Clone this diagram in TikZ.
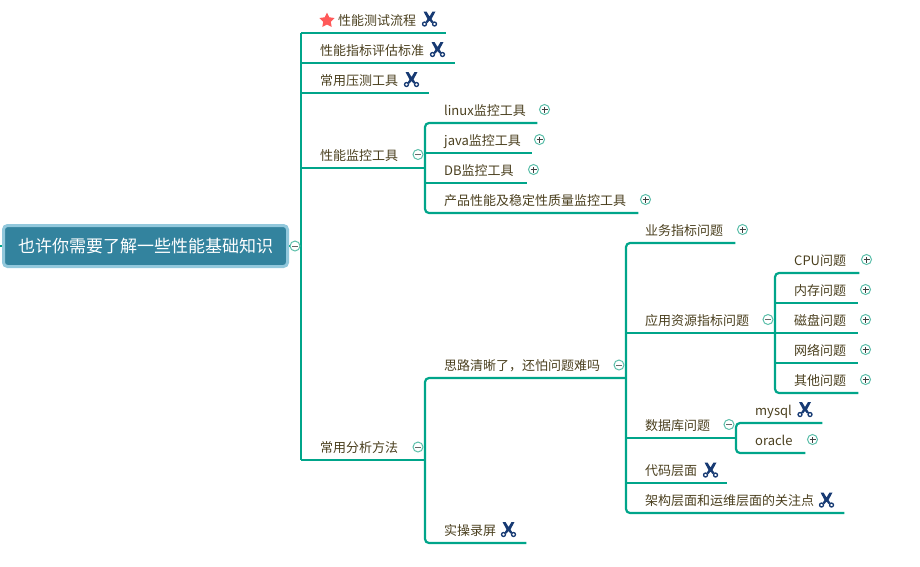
\documentclass[tikz,border=0pt]{standalone}
\usepackage{fontspec}
\setmainfont{Noto Sans CJK SC}
\usepackage{xcolor}
\usepackage{tikz}
\usetikzlibrary{shapes.geometric}
\definecolor{branchgreen}{HTML}{00A58A}
\definecolor{togglegreen}{HTML}{5CBFAA}
\definecolor{topicbrown}{HTML}{4A3F1E}
\definecolor{rootblue}{HTML}{33839E}
\definecolor{rootedge}{HTML}{92C8DC}
\definecolor{cutterblue}{HTML}{173A73}
\begin{document}
\begin{tikzpicture}[x=1pt, y=-1pt,
        topic/.style={
                anchor=south west,
                inner xsep=0pt,
                inner ysep=6pt,
                text width=#1,
                align=left,
                text height=11.5pt,
                text depth=1.5pt,
                font=\fontsize{13pt}{15pt}\selectfont,
                text=topicbrown,
                execute at begin node=\hspace*{19pt},
        },
        rootbox/.style={
                rectangle,
                rounded corners=4pt,
                draw=rootedge,
                fill=rootblue,
                line width=3pt,
                minimum width=284pt,
                minimum height=41pt,
                text=white,
                font=\fontsize{17pt}{19pt}\selectfont,
        },
        branch/.style={draw=branchgreen, line width=2.2pt},
        elbow/.style={branch, rounded corners=4pt},
        toggle/.style={
                circle,
                draw=togglegreen,
                fill=white,
                line width=1pt,
                minimum size=10pt,
                inner sep=0pt,
        },
        minusmark/.style={toggle, path picture={
                \draw[black!60, line width=0.9pt] ([xshift=-3pt]path picture bounding box.center) -- ([xshift=3pt]path picture bounding box.center);
        }},
        plusmark/.style={toggle, path picture={
                \draw[black!75, line width=0.9pt] ([xshift=-3pt]path picture bounding box.center) -- ([xshift=3pt]path picture bounding box.center);
                \draw[black!75, line width=0.9pt] ([yshift=-3pt]path picture bounding box.center) -- ([yshift=3pt]path picture bounding box.center);
        }},
        cutter/.pic={
                \fill[cutterblue] (-6,-7.5) -- (-3,-7.5) -- (0,-2.5) -- (3,-7.5) -- (6,-7.5) -- (2,0) -- (4,3) -- (2,4) -- (0,1.5) -- (-2,4) -- (-4,3) -- (-2,0) -- cycle;
                \draw[cutterblue, line width=1.3pt] (-5,5) circle (2pt);
                \draw[cutterblue, line width=1.3pt] (5,5) circle (2pt);
        },
    ]
    \useasboundingbox (0,0) rectangle (920,566);

    \node[rootbox] (root) at (145.5,246) {也许你需要了解一些性能基础知识};
    \coordinate (rootstub) at (0,246);

    \node[topic=145pt, execute at begin node=\hspace*{18pt}] (flow) at (301,33) {性能测试流程};
    \node[topic=154pt] (standard) at (301,63) {性能指标评估标准};
    \node[topic=128pt] (stress) at (301,93) {常用压测工具};
    \node[topic=124pt] (monitor) at (301,168) {性能监控工具};
    \node[topic=124pt] (analysis) at (301,460) {常用分析方法};

    \node[topic=112pt] (linux) at (425,123) {linux监控工具};
    \node[topic=107pt] (java) at (425,153) {java监控工具};
    \node[topic=102pt] (db) at (425,183) {DB监控工具};
    \node[topic=213pt] (product) at (425,213) {产品性能及稳定性质量监控工具};
    \node[topic=201pt] (thinking) at (425,378) {思路清晰了，还怕问题难吗};
    \node[topic=101pt] (record) at (425,543) {实操录屏};

    \node[topic=109pt] (business) at (626,243) {业务指标问题};
    \node[topic=149pt] (resource) at (626,333) {应用资源指标问题};
    \node[topic=110pt] (database) at (626,438) {数据库问题};
    \node[topic=101pt] (code) at (626,483) {代码层面};
    \node[topic=218pt] (arch) at (626,513) {架构层面和运维层面的关注点};

    \node[topic=84pt] (cpu) at (775,273) {CPU问题};
    \node[topic=83pt] (memory) at (775,303) {内存问题};
    \node[topic=83pt] (disk) at (775,333) {磁盘问题};
    \node[topic=83pt] (network) at (775,363) {网络问题};
    \node[topic=83pt] (other) at (775,393) {其他问题};

    \node[topic=86pt] (mysql) at (736,423) {mysql};
    \node[topic=69pt] (oracle) at (736,453) {oracle};

    \draw[branch] (rootstub) -- (root.west);
    \draw[branch] (root.east) -- (root.east -| flow.south west);
    \draw[branch] (flow.south west) -- (analysis.south west);
    \foreach \name in {flow, standard, stress, monitor, analysis, java, db, resource, database, code, memory, disk, network}
        \draw[branch] (\name.south west) -- (\name.south east);

    \draw[elbow] (linux.south east) -- (linux.south west) -- (product.south west) -- (product.south east);
    \draw[elbow] (thinking.south east) -- (thinking.south west) -- (record.south west) -- (record.south east);
    \draw[elbow] (business.south east) -- (business.south west) -- (arch.south west) -- (arch.south east);
    \draw[elbow] (cpu.south east) -- (cpu.south west) -- (other.south west) -- (other.south east);
    \draw[elbow] (mysql.south east) -- (mysql.south west) -- (oracle.south west) -- (oracle.south east);

    \node[minusmark] (roottoggle) at (295,246) {};
    \node[minusmark] (monitortoggle) at (418,154.5) {};
    \node[minusmark] (analysistoggle) at (418,447) {};
    \node[minusmark] (thinkingtoggle) at (619,365) {};
    \node[minusmark] (resourcetoggle) at (768,319.5) {};
    \node[minusmark] (databasetoggle) at (729,424.5) {};

    \node[plusmark] (linuxtoggle) at (544.5,109.5) {};
    \node[plusmark] (javatoggle) at (539.5,139.5) {};
    \node[plusmark] (dbtoggle) at (533.5,169.5) {};
    \node[plusmark] (producttoggle) at (645.5,199.5) {};
    \node[plusmark] (businesstoggle) at (742.5,229.5) {};
    \node[plusmark] (cputoggle) at (866.5,259.5) {};
    \node[plusmark] (memorytoggle) at (865.5,289.5) {};
    \node[plusmark] (disktoggle) at (865.5,319.5) {};
    \node[plusmark] (networktoggle) at (865.5,349.5) {};
    \node[plusmark] (othertoggle) at (865.5,379.5) {};
    \node[plusmark] (oracletoggle) at (812.5,439.5) {};

    \node[star, star points=5, star point ratio=2, fill=red!65!white, inner sep=0pt, minimum size=16pt] (flowstar) at (327,20.5) {};

    \pic at (429.5,19) {cutter};
    \pic at (437.5,49.5) {cutter};
    \pic at (411.5,79.5) {cutter};
    \pic at (805,409.5) {cutter};
    \pic at (710.5,470) {cutter};
    \pic at (826.5,500) {cutter};
    \pic at (508.5,529.5) {cutter};
\end{tikzpicture}
\end{document}
